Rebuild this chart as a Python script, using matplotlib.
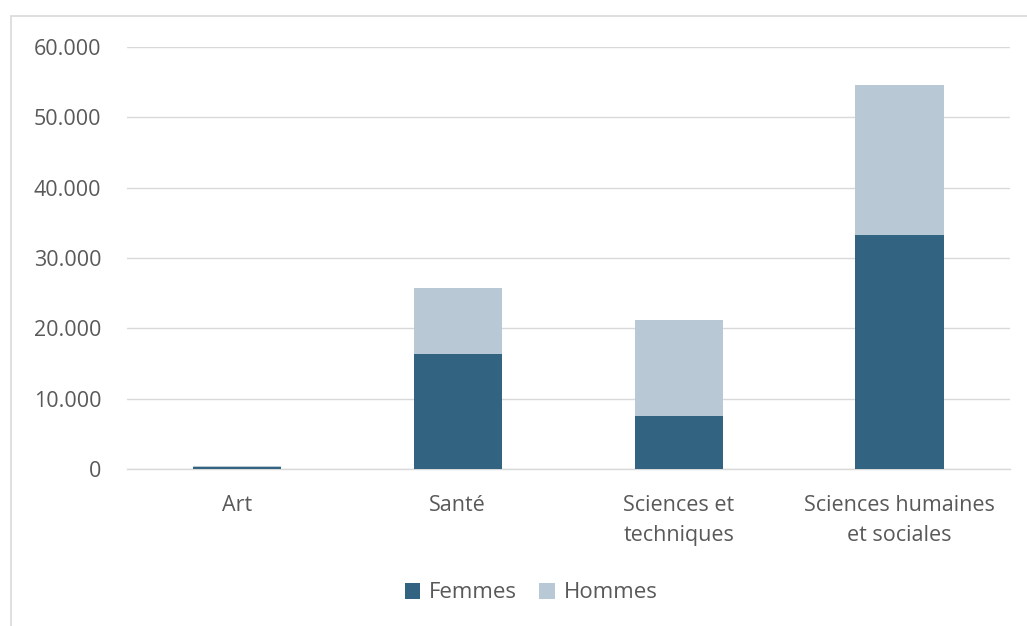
import matplotlib.pyplot as plt
from matplotlib.patches import Rectangle
from matplotlib.ticker import FuncFormatter

plt.rcParams["font.family"] = ["Open Sans", "DejaVu Sans"]

categories = ["Art", "Santé", "Sciences et\ntechniques", "Sciences humaines\net sociales"]
femmes = [350, 16300, 7500, 33300]
hommes = [120, 9400, 13700, 21300]

COL_F = "#326481"
COL_H = "#b8c8d4"
GRIS = "#595959"

fig = plt.figure(figsize=(10.27, 6.26), dpi=100)
ax = fig.add_axes([126.5 / 1027, 157 / 626, (1010 - 126.5) / 1027, 422 / 626])

x = range(len(categories))
ax.bar(x, femmes, width=0.4, color=COL_F, label="Femmes", zorder=3)
ax.bar(x, hommes, width=0.4, bottom=femmes, color=COL_H, label="Hommes", zorder=3)

ax.set_xlim(-0.5, 3.5)
ax.set_ylim(0, 60000)
ax.set_yticks(range(0, 60001, 10000))
ax.yaxis.set_major_formatter(FuncFormatter(lambda v, p: f"{int(v):,}".replace(",", ".")))
ax.set_xticks(list(x))
ax.set_xticklabels(categories, linespacing=1.55)
ax.grid(axis="y", color="#d9d9d9", linewidth=1, zorder=0)
ax.axhline(0, color="#d9d9d9", linewidth=1, zorder=1, clip_on=False)
for s in ax.spines.values():
    s.set_visible(False)
ax.tick_params(length=0, colors=GRIS, labelsize=15.5)
ax.tick_params(axis="y", pad=18)
ax.tick_params(axis="x", pad=19)

# cadre du graphique
fig.patches.append(Rectangle((11 / 1027, -0.1), 1.2, (626 - 16) / 626 + 0.1,
                             transform=fig.transFigure, fill=False,
                             edgecolor="#d9d9d9", linewidth=1.2))

fig.legend(loc="center", bbox_to_anchor=(531 / 1027, 1 - 593 / 626), ncol=2,
           frameon=False, fontsize=16, labelcolor=GRIS, handlelength=0.7,
           handleheight=0.7, handletextpad=0.4, columnspacing=1.0)

fig.savefig("out.png", dpi=100)
